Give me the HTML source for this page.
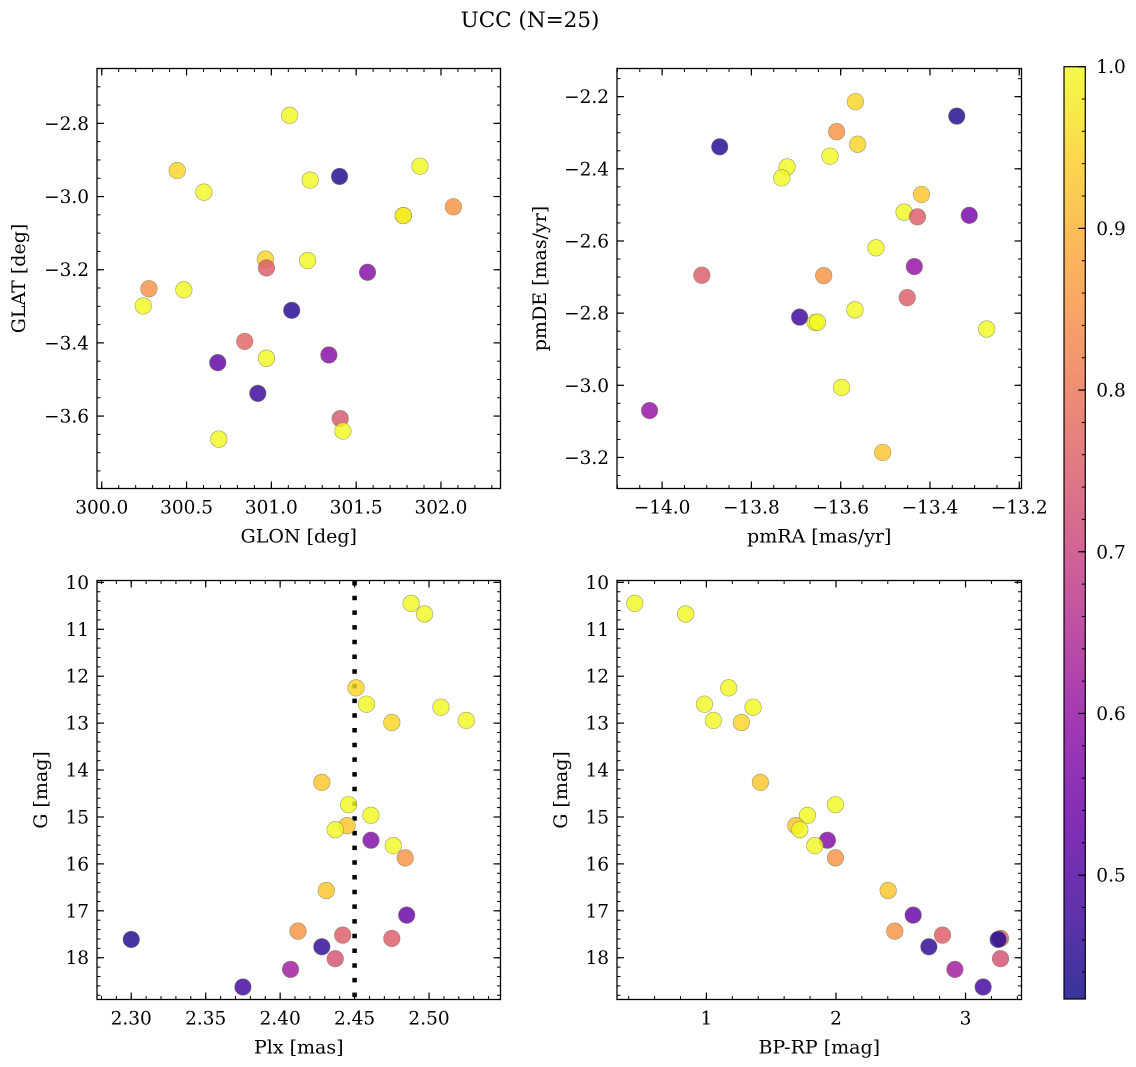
<!DOCTYPE html>
<html><head><meta charset="utf-8"><style>
body{margin:0;background:#fff;}
svg{display:block;font-family:"DejaVu Serif","Liberation Serif",serif;}
</style></head><body>
<svg id="fig" width="1136" height="1067" viewBox="0 0 1136 1067">
<text x="530" y="27" font-size="21.5" text-anchor="middle">UCC (N=25)</text>
</svg>
<script>
// ---- data ----
const glon = [301.108,300.445,300.602,301.402,301.229,301.876,301.778,301.778,302.073,300.965,300.971,301.214,301.567,300.278,300.484,300.245,301.120,300.843,300.684,300.971,301.339,300.920,301.406,301.422,300.690];
const glat = [-2.778,-2.929,-2.988,-2.945,-2.955,-2.917,-3.052,-3.052,-3.028,-3.171,-3.195,-3.175,-3.207,-3.252,-3.255,-3.299,-3.311,-3.396,-3.454,-3.442,-3.433,-3.538,-3.607,-3.641,-3.663];
const probTL = [1,0.95,1,0.44,1,1,0.98,0.98,0.85,0.95,0.75,1,0.58,0.85,1,1,0.45,0.77,0.52,1,0.58,0.47,0.74,1,1];

const pmra = [-13.567,-13.340,-13.609,-13.871,-13.562,-13.624,-13.720,-13.732,-13.419,-13.458,-13.428,-13.312,-13.521,-13.435,-13.911,-13.638,-13.451,-13.692,-13.657,-13.652,-13.568,-13.273,-13.598,-14.028,-13.506];
const pmde = [-2.214,-2.254,-2.297,-2.339,-2.332,-2.365,-2.395,-2.425,-2.471,-2.520,-2.533,-2.529,-2.619,-2.671,-2.695,-2.696,-2.757,-2.811,-2.826,-2.825,-2.791,-2.844,-3.006,-3.070,-3.186];
const probTR = [0.95,0.44,0.85,0.45,0.95,1,1,1,0.93,1,0.75,0.55,1,0.6,0.75,0.85,0.75,0.47,1,1,1,1,1,0.6,0.93];

const plx = [2.488,2.497,2.451,2.458,2.508,2.475,2.525,2.428,2.446,2.461,2.445,2.437,2.461,2.476,2.484,2.431,2.485,2.412,2.442,2.475,2.300,2.428,2.437,2.407,2.375];
const gmag = [10.447,10.674,12.248,12.596,12.660,12.986,12.943,14.262,14.738,14.965,15.184,15.270,15.496,15.610,15.872,16.567,17.092,17.433,17.518,17.589,17.610,17.766,18.021,18.248,18.624];
const probBL = [1,1,0.95,1,1,0.95,1,0.93,1,1,0.93,1,0.57,1,0.85,0.93,0.53,0.85,0.75,0.75,0.44,0.46,0.73,0.62,0.48];

const bprp = [0.447,0.840,1.172,0.985,1.360,1.054,1.270,1.417,1.996,1.780,1.690,1.721,1.934,1.837,1.996,2.403,2.596,2.454,2.822,3.270,3.252,2.717,3.270,2.918,3.136];
const gmagBR = [10.447,10.674,12.248,12.596,12.660,12.943,12.986,14.262,14.738,14.965,15.184,15.270,15.496,15.610,15.872,16.567,17.092,17.433,17.518,17.589,17.610,17.766,18.021,18.248,18.624];
const probBR = [1,1,1,1,1,1,0.95,0.93,1,1,0.93,1,0.57,1,0.85,0.93,0.53,0.85,0.75,0.75,0.44,0.46,0.73,0.62,0.48];

const plxLine = 2.45;
const cbTicks = [0.5,0.6,0.7,0.8,0.9,1.0];
const vmin = 0.4234, vmax = 1.0;

// ---- helpers ----
const NS = "http://www.w3.org/2000/svg";
const svg = document.getElementById('fig');
const TF = 18.5, LF = 19;
function mk(tag, attrs, parent){const e=document.createElementNS(NS,tag);for(const k in attrs)e.setAttribute(k,attrs[k]);(parent||svg).appendChild(e);return e;}
const stops=[[13,8,135],[65,4,157],[106,0,168],[143,13,164],[177,42,144],[204,71,120],[225,100,98],[242,132,75],[252,166,54],[252,206,37],[240,249,33]];
function plasma(t){t=Math.max(0,Math.min(1,t));const s=t*10,i=Math.min(9,Math.floor(s)),f=s-i;const a=stops[i],b=stops[i+1];return `rgb(${Math.round(a[0]+(b[0]-a[0])*f)},${Math.round(a[1]+(b[1]-a[1])*f)},${Math.round(a[2]+(b[2]-a[2])*f)})`;}
function cmap(v){return plasma((v-vmin)/(vmax-vmin));}
function fmt(v,d){const s=Math.abs(v).toFixed(d);return (v<-1e-9?'\u2212':'')+s;}

function panel(cfg){
  const {L,T,R,B,xmin,xmax,ymin,ymax,invY,xMaj,xMin,yMaj,yMin,xd,yd,name}=cfg;
  const sx=v=>L+(v-xmin)/(xmax-xmin)*(R-L);
  const sy=invY? v=>T+(v-ymin)/(ymax-ymin)*(B-T) : v=>B-(v-ymin)/(ymax-ymin)*(B-T);
  const g=mk('g',{});
  
  
  const eps=1e-6;
  function range(a,b,step){const lo=Math.min(a,b),hi=Math.max(a,b);const o=[];for(let k=Math.ceil(lo/step-eps);k*step<=hi+eps;k++)o.push(+(k*step).toFixed(6));return o;}
  range(xmin,xmax,xMin).forEach(v=>{const x=sx(v);mk('line',{x1:x,x2:x,y1:B,y2:B-3.5,stroke:'#000','stroke-width':1},g);mk('line',{x1:x,x2:x,y1:T,y2:T+3.5,stroke:'#000','stroke-width':1},g);});
  range(ymin,ymax,yMin).forEach(v=>{const y=sy(v);mk('line',{x1:L,x2:L+3.5,y1:y,y2:y,stroke:'#000','stroke-width':1},g);mk('line',{x1:R,x2:R-3.5,y1:y,y2:y,stroke:'#000','stroke-width':1},g);});
  range(xmin,xmax,xMaj).forEach(v=>{const x=sx(v);mk('line',{x1:x,x2:x,y1:B,y2:B-7,stroke:'#000','stroke-width':1.2},g);mk('line',{x1:x,x2:x,y1:T,y2:T+7,stroke:'#000','stroke-width':1.2},g);
    const t=mk('text',{x:x,y:B+25,'font-size':TF,'text-anchor':'middle'},g);t.textContent=fmt(v,xd);
    
    });
  range(ymin,ymax,yMaj).forEach(v=>{const y=sy(v);mk('line',{x1:L,x2:L+7,y1:y,y2:y,stroke:'#000','stroke-width':1.2},g);mk('line',{x1:R,x2:R-7,y1:y,y2:y,stroke:'#000','stroke-width':1.2},g);
    const t=mk('text',{x:L-8,y:y+6.5,'font-size':TF,'text-anchor':'end'},g);t.textContent=fmt(v,yd);
    
    });
  const f=mk('rect',{x:L,y:T,width:R-L,height:B-T,fill:'none',stroke:'#000','stroke-width':1.3},g);
  
  
  const xl=mk('text',{x:(L+R)/2,y:B+54,'font-size':LF,'text-anchor':'middle'},g);xl.textContent=cfg.xlabel;
  
  
  const yx=cfg.ylx, ycy=(T+B)/2;
  const yl=mk('text',{x:yx,y:ycy,'font-size':LF,'text-anchor':'middle',transform:`rotate(-90 ${yx} ${ycy})`},g);yl.textContent=cfg.ylabel;
  
  
  return {g,sx,sy};
}
function scatter(p,xs,ys,cs){
  xs.forEach((xv,i)=>{const c=mk('circle',{cx:p.sx(xv),cy:p.sy(ys[i]),r:8.3,fill:cmap(cs[i]),'fill-opacity':0.82,stroke:'#7a7a55','stroke-width':0.6,'stroke-opacity':0.7},p.g);
    
    });
}

const tl=panel({name:'glon-glat-panel',L:97,T:68.5,R:500.5,B:488.5,xmin:299.972,xmax:302.351,ymin:-3.798,ymax:-2.650,xMaj:0.5,xMin:0.1,yMaj:0.2,yMin:0.05,xd:1,yd:1,xlabel:'GLON [deg]',ylabel:'GLAT [deg]',ylx:25});
scatter(tl,glon,glat,probTL);
const tr=panel({name:'pm-panel',L:617,T:68.5,R:1021.5,B:488.5,xmin:-14.101,xmax:-13.195,ymin:-3.286,ymax:-2.122,xMaj:0.2,xMin:0.05,yMaj:0.2,yMin:0.05,xd:1,yd:1,xlabel:'pmRA [mas/yr]',ylabel:'pmDE [mas/yr]',ylx:546});
scatter(tr,pmra,pmde,probTR);
const bl=panel({name:'plx-g-panel',L:97,T:580.5,R:500.5,B:999.5,xmin:2.277,xmax:2.548,ymin:9.96,ymax:18.89,invY:true,xMaj:0.05,xMin:0.01,yMaj:1,yMin:0.2,xd:2,yd:0,xlabel:'Plx [mas]',ylabel:'G [mag]',ylx:47});
const dl=mk('line',{x1:bl.sx(plxLine),x2:bl.sx(plxLine),y1:581,y2:999,stroke:'#000','stroke-width':4.5,'stroke-dasharray':'4.5 10.2'},bl.g);


scatter(bl,plx,gmag,probBL);
const br=panel({name:'cmd-panel',L:617,T:580.5,R:1021.5,B:999.5,xmin:0.310,xmax:3.432,ymin:9.96,ymax:18.89,invY:true,xMaj:1,xMin:0.2,yMaj:1,yMin:0.2,xd:0,yd:0,xlabel:'BP-RP [mag]',ylabel:'G [mag]',ylx:567});
scatter(br,bprp,gmagBR,probBR);

// colorbar
const cb=mk('g',{});


const defs=mk('defs',{});
const lg=mk('linearGradient',{id:'cbg',x1:0,y1:1,x2:0,y2:0},defs);
for(let i=0;i<=20;i++){mk('stop',{offset:i/20,'stop-color':plasma(i/20),'stop-opacity':0.82},lg);}
const CL=1064,CR=1085.3,CT=66.7,CB=999;
const cys=v=>CB-(v-vmin)/(vmax-vmin)*(CB-CT);
mk('rect',{x:CL,y:CT,width:CR-CL,height:CB-CT,fill:'url(#cbg)',stroke:'#000','stroke-width':1.2},cb);
for(let k=22;k<=50;k++){const v=k*0.02;if(v<vmin||v>vmax+1e-9)continue;const y=cys(v);mk('line',{x1:CR,x2:CR-3.5,y1:y,y2:y,stroke:'#000','stroke-width':1},cb);}
cbTicks.forEach(v=>{const y=cys(v);mk('line',{x1:CR,x2:CR-7,y1:y,y2:y,stroke:'#000','stroke-width':1.2},cb);
  const t=mk('text',{x:CR+11,y:y+6.5,'font-size':TF},cb);t.textContent=v.toFixed(1);
  
  });
</script>
</body></html>
